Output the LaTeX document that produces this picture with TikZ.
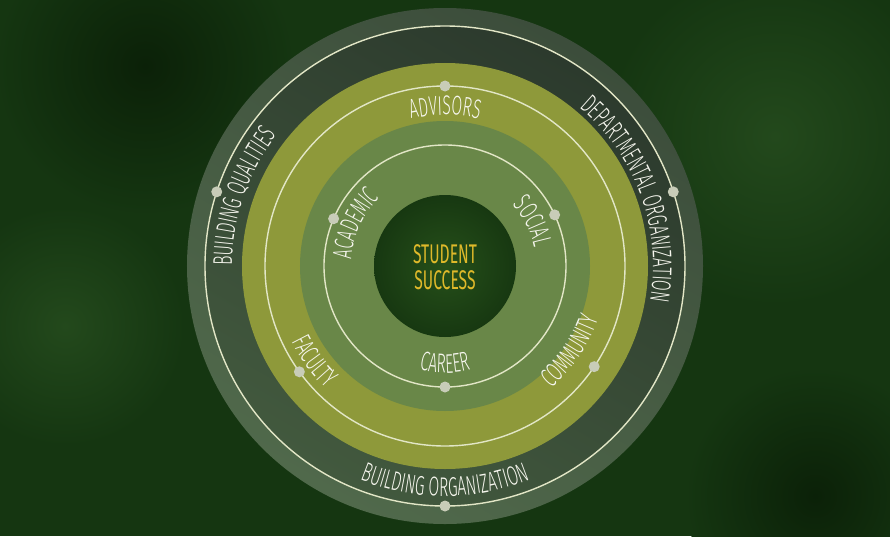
\documentclass[tikz,border=0pt]{standalone}
\usepackage{fontspec}
\setmainfont{Fira Sans}[UprightFont=* Light,FakeStretch=0.58]
\newfontfamily\centrefont{Fira Sans}[FakeStretch=0.58]
\usetikzlibrary{decorations.text}
\definecolor{bgcol}{HTML}{153611}
\definecolor{bgdark}{HTML}{0b2108}
\definecolor{bglight}{HTML}{23491c}
\definecolor{rimtop}{HTML}{3c4d3b}
\definecolor{rimbot}{HTML}{50694b}
\definecolor{bandtop}{HTML}{2c3a2d}
\definecolor{bandbot}{HTML}{42593e}
\definecolor{olive}{HTML}{8e993a}
\definecolor{leaf}{HTML}{698748}
\definecolor{core}{HTML}{173811}
\definecolor{corelight}{HTML}{26501a}
\definecolor{linecol}{HTML}{e2e6c6}
\definecolor{dotcol}{HTML}{c8ccb8}
\definecolor{txtcol}{HTML}{f6f6ee}
\definecolor{gold}{HTML}{dfb92a}
\tikzstyle{ring}=[draw=linecol,line width=1.4]
\tikzstyle{dot}=[circle,fill=dotcol,inner sep=0,minimum size=11]
\newcommand\lbl{\fontsize{27}{30}\selectfont\color{txtcol}}
% label on an arc: centre angle, radius, text
\def\cwtext#1#2#3{\path[decorate,decoration={text along path,text align=center,text={|\lbl|#3}}]
  ({#1+70}:#2) arc[start angle=#1+70,end angle=#1-70,radius=#2]}
\def\ccwtext#1#2#3{\path[decorate,decoration={text along path,text align=center,text={|\lbl|#3}}]
  ({#1-70}:#2) arc[start angle=#1-70,end angle=#1+70,radius=#2]}

\begin{document}
\begin{tikzpicture}[x=1pt,y=1pt]
  \def\Ro{258} % outer disc
  \def\Rl{240} % outer line
  \def\Rb{203} % olive band
  \def\Ra{180} % advisors line
  \def\Rg{145} % green band
  \def\Ri{121} % inner line
  \def\Rc{71}  % core

  % BACKGROUND
  \useasboundingbox (-445,-270) rectangle (445,266);
  \fill[bgcol] (-445,-270) rectangle (445,266);
  \shade[inner color=bglight,outer color=bgcol] (330,130) circle (170);
  \shade[inner color=bglight,outer color=bgcol] (-380,-60) circle (120);
  \shade[inner color=bgdark,outer color=bgcol] (-300,200) circle (150);
  \shade[inner color=bgdark,outer color=bgcol] (370,-230) circle (130);

  % RINGS
  \shade[top color=rimtop,bottom color=rimbot,shading angle=-30] (0,0) circle (\Ro);
  \shade[top color=bandtop,bottom color=bandbot,shading angle=-30] (0,0) circle (\Rl);
  \fill[olive] (0,0) circle (\Rb);
  \fill[leaf] (0,0) circle (\Rg);
  \shade[inner color=corelight,outer color=core] (0,0) circle (\Rc);
  \draw[ring] (0,0) circle (\Rl) (0,0) circle (\Ra) (0,0) circle (\Ri);

  % DOTS
  \node[dot] (advisors)  at (90:\Ra) {};
  \node[dot] (faculty)   at (216:\Ra) {};
  \node[dot] (community) at (-34:\Ra) {};
  \node[dot] (academic)  at (157:\Ri) {};
  \node[dot] (social)    at (25:\Ri) {};
  \node[dot] (career)    at (270:\Ri) {};
  \node[dot] (qualities) at (162:\Rl) {};
  \node[dot] (dept)      at (18:\Rl) {};
  \node[dot] (building)  at (270:\Rl) {};

  % LABELS
  \node[gold,align=center,font=\centrefont\fontsize{27}{25.5}\selectfont] (success) at (0,-1) {STUDENT\\SUCCESS};
  \cwtext{90}{151}{ADVISORS};
  \cwtext{155}{94}{ACADEMIC};
  \cwtext{27}{91}{SOCIAL};
  \ccwtext{270}{107}{CAREER};
  \ccwtext{216}{171}{FACULTY};
  \ccwtext{-34}{162}{COMMUNITY};
  \cwtext{161}{213}{BUILDING QUALITIES};
  \cwtext{20}{208}{DEPARTMENTAL ORGANIZATION};
  \ccwtext{270}{230}{BUILDING ORGANIZATION};
\end{tikzpicture}
\end{document}
